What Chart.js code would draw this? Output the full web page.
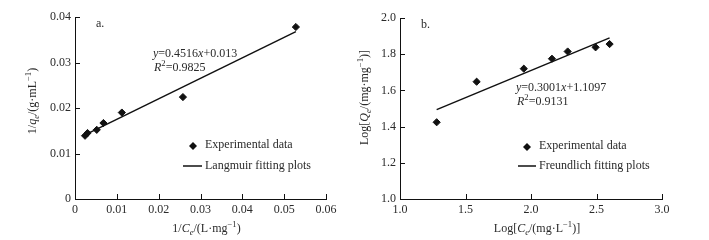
<!DOCTYPE html>
<html>
<head>
<meta charset="utf-8">
<script src="https://cdn.jsdelivr.net/npm/chart.js@4/dist/chart.umd.min.js"></script>
<style>
  html, body { margin: 0; padding: 0; background: #fff; }
  #wrap { display: flex; width: 709px; height: 240px; }
  .panel { position: relative; height: 240px; }
  #panelA { width: 354px; }
  #panelB { width: 355px; }
</style>
</head>
<body>
<div id="wrap">
  <div class="panel" id="panelA"><canvas id="chartA"></canvas></div>
  <div class="panel" id="panelB"><canvas id="chartB"></canvas></div>
</div>
<script>
// ── Data ────────────────────────────────────────────────────────────────────
// a. Langmuir
const langmuirX    = [0.0024, 0.0030, 0.0052, 0.0068, 0.0112, 0.0258, 0.0528];
const langmuirY    = [0.0139, 0.0145, 0.0152, 0.0167, 0.0190, 0.0224, 0.0378];
const langmuirFitX = [0.0024, 0.0528];
const langmuirFitY = [0.0141, 0.0368];
const xTicksA = ['0', '0.01', '0.02', '0.03', '0.04', '0.05', '0.06'];
const yTicksA = ['0', '0.01', '0.02', '0.03', '0.04'];

// b. Freundlich
const freundlichX    = [1.28, 1.585, 1.945, 2.16, 2.28, 2.493, 2.60];
const freundlichY    = [1.424, 1.648, 1.72, 1.775, 1.815, 1.838, 1.856];
const freundlichFitX = [1.28, 2.60];
const freundlichFitY = [1.494, 1.890];
const xTicksB = ['1.0', '1.5', '2.0', '2.5', '3.0'];
const yTicksB = ['1.0', '1.2', '1.4', '1.6', '1.8', '2.0'];

const FONT = '"Liberation Serif", "Times New Roman", serif';
const INK  = '#111';
const TEXT = '#2a2a2a';

// ── Helpers ─────────────────────────────────────────────────────────────────
const toPoints = (xs, ys) => xs.map((x, i) => ({ x, y: ys[i] }));

/** Draw a run of text segments (italic / sub / sup) on the canvas */
function drawRich(ctx, segs, x, y, size, align, rotate) {
  const fontOf = s => (s.i ? 'italic ' : '') + ((s.sub || s.sup) ? size * 0.72 : size) + 'px ' + FONT;
  let total = 0;
  segs.forEach(s => { ctx.font = fontOf(s); total += ctx.measureText(s.t).width; });

  ctx.save();
  ctx.translate(x, y);
  if (rotate) ctx.rotate(-Math.PI / 2);
  ctx.fillStyle = TEXT;
  ctx.textBaseline = 'middle';
  ctx.textAlign = 'left';
  let cx = align === 'center' ? -total / 2 : 0;
  segs.forEach(s => {
    ctx.font = fontOf(s);
    let dy = 0;
    if (s.sub) dy = size * 0.28;
    if (s.sup) dy = -size * 0.32;
    ctx.fillText(s.t, cx, dy);
    cx += ctx.measureText(s.t).width;
  });
  ctx.restore();
}

// Plugin: inward tick marks, axis titles, annotations and legend
const decorPlugin = {
  id: 'decor',
  afterDraw(chart, args, opts) {
    const { ctx, chartArea: ca, scales } = chart;
    // inward ticks
    ctx.save();
    ctx.strokeStyle = INK;
    ctx.lineWidth = 1;
    ctx.beginPath();
    scales.y.ticks.forEach(t => {
      const py = Math.round(scales.y.getPixelForValue(t.value)) + 0.5;
      ctx.moveTo(ca.left, py); ctx.lineTo(ca.left + 5, py);
    });
    scales.x.ticks.forEach(t => {
      const px = Math.round(scales.x.getPixelForValue(t.value)) + 0.5;
      ctx.moveTo(px, ca.bottom); ctx.lineTo(px, ca.bottom - 5);
    });
    ctx.stroke();
    ctx.restore();

    const midX = (ca.left + ca.right) / 2;
    const midY = (ca.top + ca.bottom) / 2;
    drawRich(ctx, opts.xTitle, midX + opts.xTitleDx, ca.bottom + 30, 12, 'center', false);
    drawRich(ctx, opts.yTitle, ca.left - opts.yTitleDx, midY - opts.yTitleDy, 12, 'center', true);

    // panel tag and fit equation
    drawRich(ctx, [{ t: opts.tag }], ca.left + 21, ca.top + 7, 12, 'left', false);
    drawRich(ctx, opts.eq, opts.eqX, opts.eqY, 12, 'left', false);
    drawRich(ctx, opts.r2, opts.eqX + 1, opts.eqY + 14, 12, 'left', false);

    // legend
    const lg = opts.legend;
    ctx.save();
    ctx.fillStyle = INK;
    ctx.beginPath();
    ctx.moveTo(lg.markX - 4, lg.y1);
    ctx.lineTo(lg.markX, lg.y1 - 4);
    ctx.lineTo(lg.markX + 4, lg.y1);
    ctx.lineTo(lg.markX, lg.y1 + 4);
    ctx.closePath();
    ctx.fill();
    ctx.strokeStyle = INK;
    ctx.lineWidth = 1.5;
    ctx.beginPath();
    ctx.moveTo(lg.lineX0, lg.y2);
    ctx.lineTo(lg.lineX1, lg.y2);
    ctx.stroke();
    ctx.restore();
    drawRich(ctx, [{ t: lg.label1 }], lg.textX, lg.y1 - 1, 12, 'left', false);
    drawRich(ctx, [{ t: lg.label2 }], lg.textX, lg.y2, 12, 'left', false);
  }
};

/** Build one scatter + fit line panel */
function makeChart(canvasId, cfg) {
  const axisTicks = labels => ({
    color: TEXT,
    font: { family: FONT, size: 12 },
    callback: (v, i) => labels[i],
  });

  return new Chart(document.getElementById(canvasId), {
    type: 'scatter',
    data: {
      datasets: [
        {
          data: cfg.points,
          pointStyle: 'rectRot',
          pointRadius: 3.6,
          backgroundColor: INK,
          borderColor: INK,
          borderWidth: 1,
        },
        {
          data: cfg.fit,
          showLine: true,
          pointRadius: 0,
          borderColor: INK,
          borderWidth: 1.5,
        },
      ],
    },
    options: {
      responsive: true,
      maintainAspectRatio: false,
      animation: false,
      events: [],
      layout: { padding: { top: cfg.padTop, right: cfg.padRight, left: 0, bottom: 0 } },
      scales: {
        x: {
          type: 'linear',
          min: cfg.xMin, max: cfg.xMax,
          ticks: { ...axisTicks(cfg.xTicks), stepSize: cfg.xStep, padding: 4, maxRotation: 0 },
          grid: { display: false, drawTicks: false },
          border: { display: true, color: INK, width: 1 },
          afterFit: s => { s.height = cfg.xHeight; },
        },
        y: {
          type: 'linear',
          min: cfg.yMin, max: cfg.yMax,
          ticks: { ...axisTicks(cfg.yTicks), stepSize: cfg.yStep, padding: 4 },
          grid: { display: false, drawTicks: false },
          border: { display: true, color: INK, width: 1 },
          afterFit: s => { s.width = cfg.yWidth; },
        },
      },
      plugins: {
        legend: { display: false },
        tooltip: { enabled: false },
        decor: cfg.decor,
      },
    },
    plugins: [decorPlugin],
  });
}

// ── Panel a: Langmuir ───────────────────────────────────────────────────────
makeChart('chartA', {
  points: toPoints(langmuirX, langmuirY),
  fit: toPoints(langmuirFitX, langmuirFitY),
  xMin: 0, xMax: 0.06, xStep: 0.01, xTicks: xTicksA,
  yMin: 0, yMax: 0.04, yStep: 0.01, yTicks: yTicksA,
  padTop: 17, padRight: 28, yWidth: 75, xHeight: 41,
  decor: {
    tag: 'a.',
    xTitle: [{ t: '1/' }, { t: 'C', i: true }, { t: 'e', i: true, sub: true }, { t: '/(L·mg' }, { t: '−1', sup: true }, { t: ')' }],
    yTitle: [{ t: '1/' }, { t: 'q', i: true }, { t: 'e', i: true, sub: true }, { t: '/(g·mL' }, { t: '−1', sup: true }, { t: ')' }],
    xTitleDx: 6, yTitleDx: 42, yTitleDy: 7,
    eq: [{ t: 'y', i: true }, { t: '=0.4516' }, { t: 'x', i: true }, { t: '+0.013' }],
    r2: [{ t: 'R', i: true }, { t: '2', sup: true }, { t: '=0.9825' }],
    eqX: 153, eqY: 54,
    legend: {
      markX: 193, y1: 146, y2: 166, lineX0: 183, lineX1: 202, textX: 205,
      label1: 'Experimental data', label2: 'Langmuir fitting plots',
    },
  },
});

// ── Panel b: Freundlich ─────────────────────────────────────────────────────
makeChart('chartB', {
  points: toPoints(freundlichX, freundlichY),
  fit: toPoints(freundlichFitX, freundlichFitY),
  xMin: 1.0, xMax: 3.0, xStep: 0.5, xTicks: xTicksB,
  yMin: 1.0, yMax: 2.0, yStep: 0.2, yTicks: yTicksB,
  padTop: 18, padRight: 47, yWidth: 46, xHeight: 41,
  decor: {
    tag: 'b.',
    xTitle: [{ t: 'Log[' }, { t: 'C', i: true }, { t: 'e', i: true, sub: true }, { t: '/(mg·L' }, { t: '−1', sup: true }, { t: ')]' }],
    yTitle: [{ t: 'Log[' }, { t: 'Q', i: true }, { t: 'e', i: true, sub: true }, { t: '/(mg·mg' }, { t: '−1', sup: true }, { t: ')]' }],
    xTitleDx: 6, yTitleDx: 35, yTitleDy: 11,
    eq: [{ t: 'y', i: true }, { t: '=0.3001' }, { t: 'x', i: true }, { t: '+1.1097' }],
    r2: [{ t: 'R', i: true }, { t: '2', sup: true }, { t: '=0.9131' }],
    eqX: 162, eqY: 88,
    legend: {
      markX: 173, y1: 147, y2: 166, lineX0: 164, lineX1: 182, textX: 185,
      label1: 'Experimental data', label2: 'Freundlich fitting plots',
    },
  },
});
</script>
</body>
</html>
